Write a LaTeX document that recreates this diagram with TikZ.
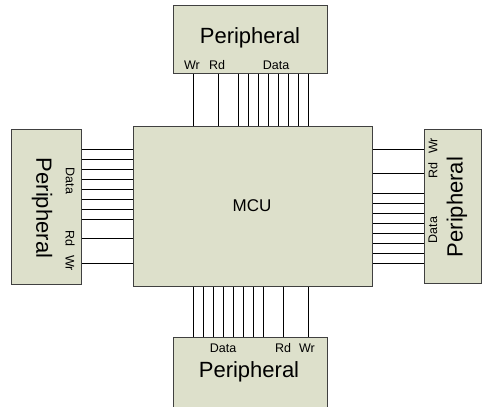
\documentclass[tikz,border=0pt]{standalone}
\usepackage{fontspec}
\setmainfont{Liberation Sans}
\usetikzlibrary{positioning}
\usetikzlibrary{calc}
\definecolor{boxfill}{RGB}{221,224,203}
\definecolor{boxline}{RGB}{64,64,64}

\tikzset{
  unit/.style={draw=boxline, fill=boxfill, line width=1.2pt, inner sep=0pt},
  bigtext/.style={font=\fontsize{22}{26}\selectfont, inner sep=0pt},
  pintext/.style={font=\fontsize{12.5}{14}\selectfont, inner sep=0pt},
  wire/.style={black, line width=0.7pt}
}

\begin{document}
\begin{tikzpicture}[x=1pt, y=-1pt]

\useasboundingbox (0,0) rectangle (482,407);

%---------------------------------------
% Blocks
%---------------------------------------
\node[unit, anchor=north west, minimum width=239pt, minimum height=160pt] (mcu) at (133,126) {};
\node[unit, anchor=north west, minimum width=154pt, minimum height=68pt]  (topP) at (173,5) {};
\node[unit, anchor=north west, minimum width=154pt, minimum height=70pt]  (botP) at (173,337) {};
\node[unit, anchor=north west, minimum width=70pt,  minimum height=155pt] (leftP) at (11,128.5) {};
\node[unit, anchor=north west, minimum width=57pt,  minimum height=154pt] (rightP) at (424,129) {};

% Titles
\node[font=\fontsize{17}{20}\selectfont] (mcuText) at (252,206) {MCU};
\node[bigtext] (topText) at (250,38) {Peripheral};
\node[bigtext] (botText) at (249,372) {Peripheral};
\node[bigtext, rotate=-90] (leftText) at (42,208) {Peripheral};
\node[bigtext, rotate=90] (rightText) at (457,207) {Peripheral};

%---------------------------------------
% Buses
%---------------------------------------
% top: Wr, Rd, Data
\foreach \x in {193,218,238,248,...,308}
  \draw[wire] (\x,0 |- topP.south) -- (\x,0 |- mcu.north);
% bottom: Data, Rd, Wr
\foreach \x in {193,203,...,263,283,308}
  \draw[wire] (\x,0 |- mcu.south) -- (\x,0 |- botP.north);
% left: Data, Rd, Wr
\foreach \y in {149,159,...,219,238,263}
  \draw[wire] (0,\y -| leftP.east) -- (0,\y -| mcu.west);
% right: Wr, Rd, Data
\foreach \y in {149,173,193,203,...,263}
  \draw[wire] (0,\y -| mcu.east) -- (0,\y -| rightP.west);

%---------------------------------------
% Pin labels
%---------------------------------------
\node[pintext] (topWr)   at (192,65) {Wr};
\node[pintext] (topRd)   at (217,65) {Rd};
\node[pintext] (topData) at (276,65) {Data};

\node[pintext] (botData) at (223,348) {Data};
\node[pintext] (botRd)   at (283,348) {Rd};
\node[pintext] (botWr)   at (307,348) {Wr};

\node[pintext, rotate=-90] (leftData) at (70,181) {Data};
\node[pintext, rotate=-90] (leftRd)   at (70,238) {Rd};
\node[pintext, rotate=-90] (leftWr)   at (70,263) {Wr};

\node[pintext, rotate=90] (rightWr)   at (433,146) {Wr};
\node[pintext, rotate=90] (rightRd)   at (433,171) {Rd};
\node[pintext, rotate=90] (rightData) at (433,230) {Data};

\end{tikzpicture}
\end{document}
